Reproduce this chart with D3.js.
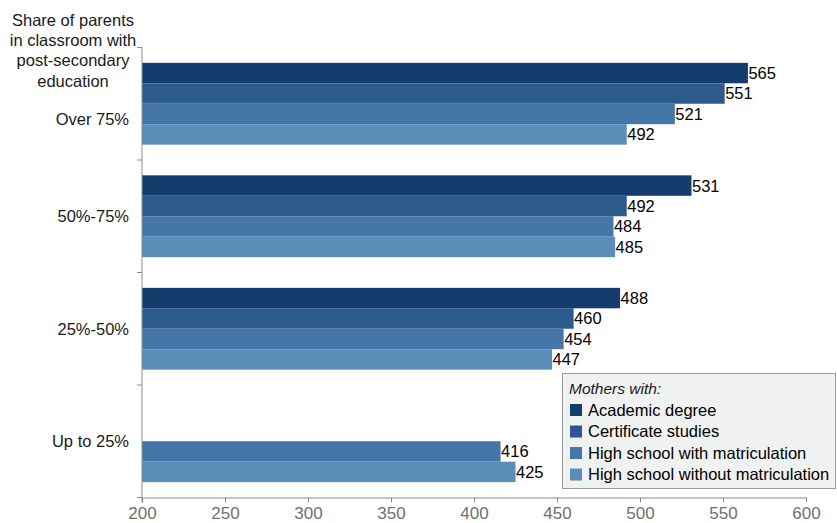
<!DOCTYPE html>
<html>
<head>
<meta charset="utf-8">
<script src="https://cdn.jsdelivr.net/npm/d3@7"></script>
<style>
  body { margin: 0; background: #fff; }
  svg { display: block; font-family: "Liberation Sans", Arial, sans-serif; }
</style>
</head>
<body>
<svg id="chart" width="837" height="523"></svg>
<script>
const categories = ["Over 75%", "50%-75%", "25%-50%", "Up to 25%"];
const seriesNames = ["Academic degree", "Certificate studies", "High school with matriculation", "High school without matriculation"];
const academicDegree = [565, 531, 488, null];
const certificateStudies = [551, 492, 460, null];
const hsWithMatric = [521, 484, 454, 416];
const hsWithoutMatric = [492, 485, 447, 425];
const xTicks = [200, 250, 300, 350, 400, 450, 500, 550, 600];
const colors = ["#143c6c", "#2c5a8a", "#4476a8", "#5b8db9"];
const axisTitle = ["Share of parents", "in classroom with", "post-secondary", "education"];
const legendTitle = "Mothers with:";

const seriesValues = [academicDegree, certificateStudies, hsWithMatric, hsWithoutMatric];

const svg = d3.select("#chart");
const x = d3.scaleLinear().domain([200, 600]).range([142, 806]);
const y = d3.scaleBand().domain(categories).range([47.5, 497.5]).padding(0);
const yi = d3.scaleBand().domain(d3.range(4)).range([0, y.bandwidth()]).paddingInner(0).paddingOuter(0.75);

// bars
categories.forEach((c, ci) => {
  seriesValues.forEach((vals, si) => {
    const v = vals[ci];
    if (v == null) return;
    const y0 = y(c) + yi(si);
    svg.append("rect")
      .attr("x", x(200)).attr("y", y0)
      .attr("width", x(v) - x(200)).attr("height", yi.bandwidth())
      .attr("fill", colors[si]);
    svg.append("text")
      .attr("x", x(v) + 0.5).attr("y", y0 + yi.bandwidth() / 2)
      .attr("dy", "0.36em")
      .attr("font-size", 16.5).attr("fill", "#000")
      .text(v);
  });
});

// x axis
const xAxis = d3.axisBottom(x).tickValues(xTicks).tickSize(5).tickSizeOuter(0);
const gx = svg.append("g").attr("transform", `translate(0,${y.range()[1]})`).call(xAxis);
gx.select(".domain").attr("stroke", "#8c8c8c");
gx.selectAll(".tick line").attr("stroke", "#8c8c8c");
gx.selectAll(".tick text").attr("font-size", 17).attr("fill", "#707070")
  .attr("font-family", "Liberation Sans, Arial, sans-serif").attr("dy", "0.8em");

// y axis line and boundary ticks
svg.append("line")
  .attr("x1", x(200)).attr("x2", x(200))
  .attr("y1", y.range()[0]).attr("y2", y.range()[1] + 5)
  .attr("stroke", "#8c8c8c");
const bounds = categories.map(c => y(c)).concat([y.range()[1]]);
svg.selectAll(".ytick").data(bounds).enter().append("line")
  .attr("x1", x(200) - 5).attr("x2", x(200))
  .attr("y1", d => d).attr("y2", d => d)
  .attr("stroke", "#8c8c8c");

// category labels
svg.selectAll(".clabel").data(categories).enter().append("text")
  .attr("x", 129)
  .attr("y", (d, i) => y(d) + y.bandwidth() / 2 + (i === 0 ? 15 : 0))
  .attr("dy", "0.36em")
  .attr("text-anchor", "end")
  .attr("font-size", 16.5).attr("fill", "#1a1a1a")
  .text(d => d);

// axis title
svg.append("text")
  .attr("x", 73).attr("y", 20)
  .attr("text-anchor", "middle").attr("font-size", 16.5).attr("fill", "#1a1a1a")
  .selectAll("tspan").data(axisTitle).enter().append("tspan")
  .attr("x", 73).attr("dy", (d, i) => i === 0 ? "0.36em" : 20.2)
  .text(d => d);

// legend
const lg = svg.append("g");
lg.append("rect")
  .attr("x", 562.5).attr("y", 373.5).attr("width", 273).attr("height", 115)
  .attr("fill", "#f0f1f1").attr("stroke", "#9a9a9a");
lg.append("text")
  .attr("x", 569).attr("y", 388).attr("dy", "0.36em")
  .attr("font-size", 15.5).attr("font-style", "italic").attr("fill", "#1a1a1a")
  .text(legendTitle);
seriesNames.forEach((n, i) => {
  const cy = 410 + i * 21.5;
  lg.append("rect").attr("x", 570).attr("y", cy - 6).attr("width", 12).attr("height", 12).attr("fill", colors[i]);
  lg.append("text").attr("x", 588).attr("y", cy).attr("dy", "0.36em")
    .attr("font-size", 16.5).attr("fill", "#000").text(n);
});
</script>
</body>
</html>
